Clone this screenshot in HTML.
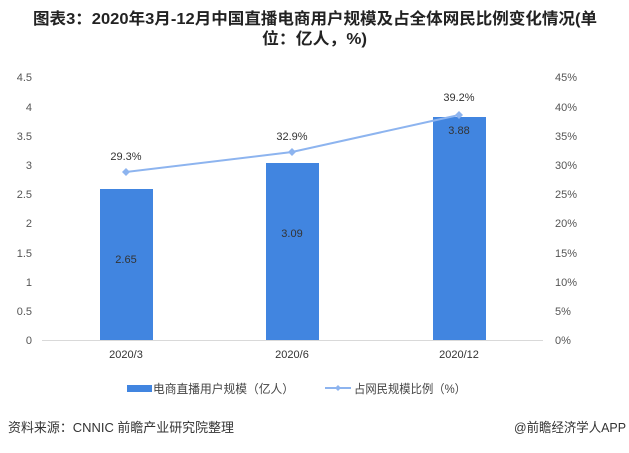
<!DOCTYPE html>
<html><head><meta charset="utf-8"><style>
body{margin:0;background:#fff;}
svg text{font-family:"Liberation Sans","Noto Sans CJK SC",sans-serif;}
</style></head><body>
<svg width="629" height="448" xmlns="http://www.w3.org/2000/svg">
<rect width="629" height="448" fill="#fff"/>
<text x="33" y="24" font-size="16" font-weight="bold" fill="#222" textLength="564" lengthAdjust="spacingAndGlyphs">图表3：2020年3月-12月中国直播电商用户规模及占全体网民比例变化情况(单</text>
<text x="262" y="44" font-size="16" font-weight="bold" fill="#222" textLength="105" lengthAdjust="spacingAndGlyphs">位：亿人，%)</text>
<g font-size="11" fill="#555" text-anchor="end">
<text x="32" y="344">0</text><text x="32" y="315">0.5</text><text x="32" y="286">1</text><text x="32" y="257">1.5</text><text x="32" y="227">2</text><text x="32" y="198">2.5</text><text x="32" y="169">3</text><text x="32" y="140">3.5</text><text x="32" y="111">4</text><text x="32" y="81">4.5</text>
</g>
<g font-size="11" fill="#555" text-anchor="start">
<text x="555" y="344">0%</text><text x="555" y="315">5%</text><text x="555" y="286">10%</text><text x="555" y="257">15%</text><text x="555" y="227">20%</text><text x="555" y="198">25%</text><text x="555" y="169">30%</text><text x="555" y="140">35%</text><text x="555" y="111">40%</text><text x="555" y="81">45%</text>
</g>
<line x1="42" y1="340.5" x2="543" y2="340.5" stroke="#d9d9d9"/>
<rect x="100" y="189" width="53" height="151" fill="#4185e0"/>
<rect x="266" y="163" width="53" height="177" fill="#4185e0"/>
<rect x="433" y="117" width="53" height="223" fill="#4185e0"/>
<g font-size="11" fill="#333" text-anchor="middle">
<text x="126" y="263">2.65</text><text x="292" y="237">3.09</text><text x="459" y="134">3.88</text>
<text x="126" y="160">29.3%</text><text x="292" y="140">32.9%</text><text x="459" y="101">39.2%</text>
<text x="126" y="358">2020/3</text><text x="292" y="358">2020/6</text><text x="459" y="358">2020/12</text>
</g>
<polyline points="126,172 292,152 459,115" fill="none" stroke="#8db4ef" stroke-width="2"/>
<g fill="#8db4ef"><path d="M126,168 l4,4 -4,4 -4,-4z"/><path d="M292,148 l4,4 -4,4 -4,-4z"/><path d="M459,111 l4,4 -4,4 -4,-4z"/></g>
<rect x="127" y="385" width="25" height="7" fill="#4185e0"/>
<text x="153" y="393" font-size="12" fill="#444" textLength="141" lengthAdjust="spacingAndGlyphs">电商直播用户规模（亿人）</text>
<line x1="325" y1="388" x2="351" y2="388" stroke="#8db4ef" stroke-width="2"/>
<path d="M338,385 l3,3 -3,3 -3,-3z" fill="#8db4ef"/>
<text x="354" y="393" font-size="12" fill="#444" textLength="112" lengthAdjust="spacingAndGlyphs">占网民规模比例（%）</text>
<text x="8" y="432" font-size="13" fill="#333" textLength="226" lengthAdjust="spacingAndGlyphs">资料来源：CNNIC 前瞻产业研究院整理</text>
<text x="514" y="432" font-size="13" fill="#333" textLength="112" lengthAdjust="spacingAndGlyphs">@前瞻经济学人APP</text>
</svg>
</body></html>
